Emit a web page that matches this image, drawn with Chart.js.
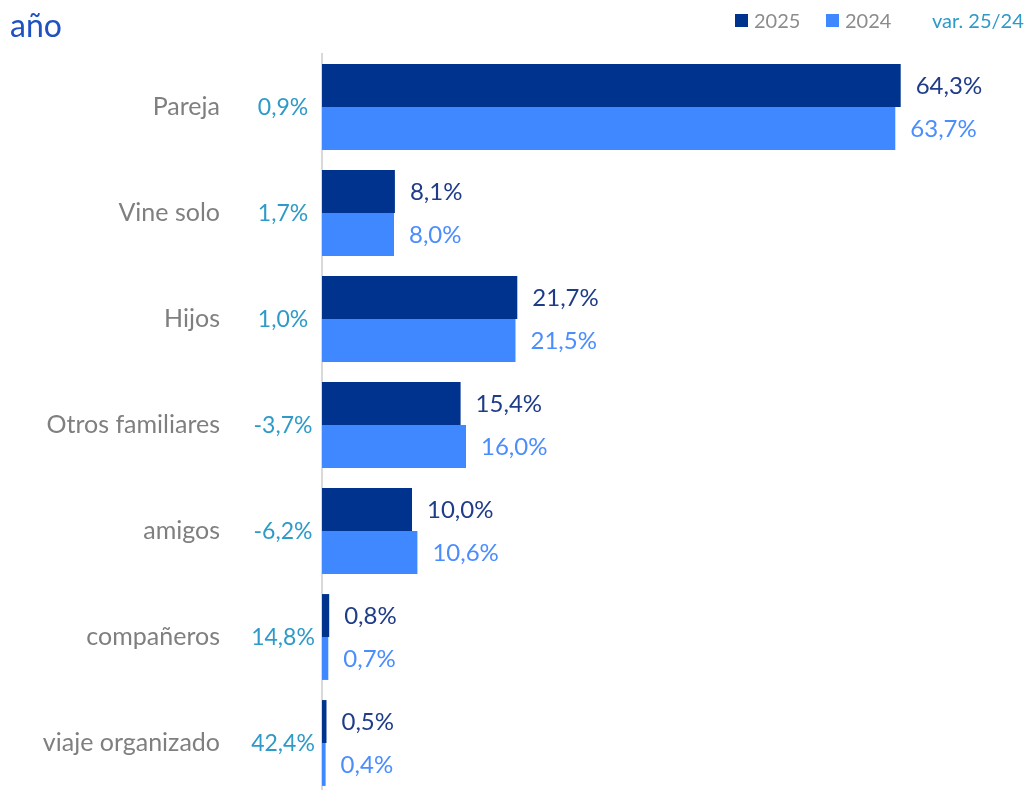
<!DOCTYPE html>
<html>
<head>
<meta charset="utf-8">
<script src="https://cdn.jsdelivr.net/npm/chart.js@4"></script>
<style>
  html, body { margin: 0; padding: 0; overflow: hidden; background: #fff; }
  #wrap { width: 1028px; height: 790px; overflow: hidden; }
</style>
</head>
<body>
<div id="wrap"><canvas id="myChart" width="1028" height="800"></canvas></div>
<script>
// datos
var categories = ["Pareja", "Vine solo", "Hijos", "Otros familiares", "amigos", "compañeros", "viaje organizado"];
var values2025 = [64.3, 8.1, 21.7, 15.4, 10.0, 0.8, 0.5];
var values2024 = [63.7, 8.0, 21.5, 16.0, 10.6, 0.7, 0.4];
var variation = [0.9, 1.7, 1.0, -3.7, -6.2, 14.8, 42.4];
var seriesLabels = ["2025", "2024"];

var FONT = "Lato, 'Open Sans', sans-serif";
var dark = "#00338d";
var light = "#3f88ff";

function pct(v) {
  return v.toFixed(1).replace(".", ",") + "%";
}

// etiquetas, variación, título y leyenda
var extras = {
  id: "extras",
  afterDatasetsDraw: function (chart) {
    var ctx = chart.ctx;
    ctx.save();
    ctx.textBaseline = "middle";
    ctx.font = "24px " + FONT;
    var labelColors = ["#1f3c88", "#4a8dff"];
    chart.data.datasets.forEach(function (ds, di) {
      var meta = chart.getDatasetMeta(di);
      ctx.fillStyle = labelColors[di];
      ctx.textAlign = "left";
      meta.data.forEach(function (bar, i) {
        ctx.fillText(pct(ds.data[i]), bar.x + 15, bar.y + 1);
      });
    });

    var yScale = chart.scales.y;
    ctx.font = "23px " + FONT;
    ctx.fillStyle = "#2e9ac8";
    ctx.textAlign = "center";
    variation.forEach(function (v, i) {
      ctx.fillText(pct(v), 283, yScale.getPixelForValue(i) + 1);
    });

    // título
    ctx.textBaseline = "alphabetic";
    ctx.textAlign = "left";
    ctx.fillStyle = "#1f52c0";
    ctx.font = "32px " + FONT;
    ctx.fillText("año", 10, 37);

    // leyenda
    ctx.font = "20px " + FONT;
    var legendX = [735, 826];
    chart.data.datasets.forEach(function (ds, di) {
      ctx.fillStyle = ds.backgroundColor;
      ctx.fillRect(legendX[di], 14, 13, 13);
      ctx.fillStyle = "#8c8c8c";
      ctx.fillText(ds.label, legendX[di] + 19, 28);
    });
    ctx.fillStyle = "#2e9ac8";
    ctx.fillText("var. 25/24", 932, 28);
    ctx.restore();
  },
};

var ctx = document.getElementById("myChart").getContext("2d");
var myChart = new Chart(ctx, {
  type: "bar",
  data: {
    labels: categories,
    datasets: [
      {
        label: seriesLabels[0],
        data: values2025,
        backgroundColor: dark,
      },
      {
        label: seriesLabels[1],
        data: values2024,
        backgroundColor: light,
      },
    ],
  },
  options: {
    indexAxis: "y",
    responsive: false,
    animation: false,
    datasets: {
      bar: {
        categoryPercentage: 0.81,
        barPercentage: 1.0,
      },
    },
    layout: {
      padding: { top: 54, bottom: 4, left: 0, right: 76 },
    },
    plugins: {
      legend: { display: false },
      tooltip: { enabled: false },
    },
    scales: {
      x: {
        display: false,
        min: 0,
        max: 70,
      },
      y: {
        grid: { display: false, drawTicks: false },
        border: { display: true, color: "#d9d9d9", width: 2 },
        ticks: {
          color: "#7f7f7f",
          font: { family: FONT, size: 25 },
          padding: 102,
        },
        afterFit: function (scale) {
          scale.width = 322;
          scale.paddingTop = 0;
          scale.paddingBottom = 0;
        },
      },
    },
  },
  plugins: [extras],
});
</script>
</body>
</html>
